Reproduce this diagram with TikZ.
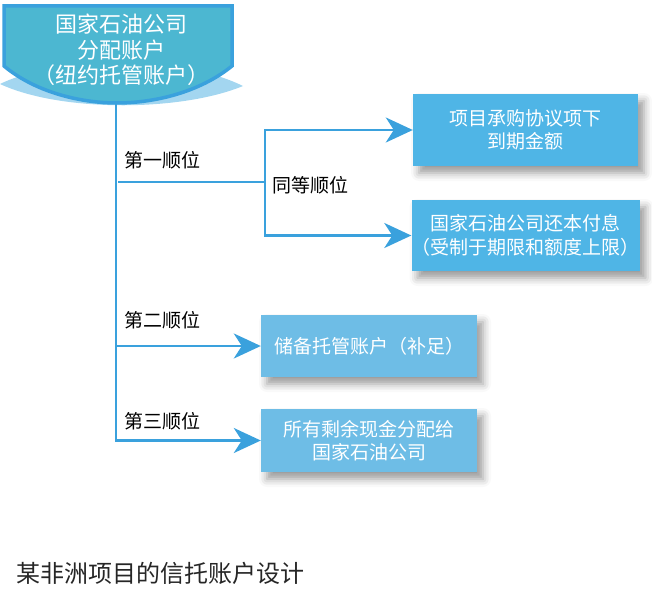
\documentclass[tikz,border=0pt]{standalone}
\usepackage{fontspec}
\newfontfamily\cjk{Noto Sans CJK SC}
\usetikzlibrary{arrows.meta,shadows.blur,calc}
\definecolor{linec}{HTML}{3AA1DD}
\definecolor{topfill}{HTML}{4CB7D1}
\definecolor{crescent}{HTML}{A3D6F0}
\definecolor{boxa}{HTML}{4FB5E6}
\definecolor{boxb}{HTML}{6EBDE6}
\tikzset{
  conn/.style={draw=linec,line width=2.6pt},
  arr/.style={conn,-{Stealth[length=27pt,width=25pt,inset=8pt]}},
  resbox/.style={fill=#1,minimum width=225pt,minimum height=72pt,inner sep=0pt,
    text=white,font=\cjk\fontsize{19}{23.5}\selectfont,align=center,
    blur shadow={shadow xshift=6pt,shadow yshift=-7pt,shadow blur radius=8pt,shadow opacity=40}},
  lab/.style={anchor=west,inner sep=0pt,font=\cjk\fontsize{19}{22}\selectfont,text=black},
}
\begin{document}
\begin{tikzpicture}[x=1pt,y=1pt]
\useasboundingbox (0,0) rectangle (652,-596);
% crescent behind the top shape
\fill[crescent] (0,-84) .. controls (60,-55) and (180,-55) .. (243,-86)
  .. controls (180,-112) and (60,-112) .. cycle;
% top shield shape
\draw[draw=linec,line width=3.5pt,fill=topfill]
  (4,-6) -- (232,-6) -- (232,-66)
  .. controls (200,-92) and (155,-103) .. (117,-103)
  .. controls (80,-103) and (35,-92) .. (4,-66) -- cycle;
\node[align=center,text=white,inner sep=0pt,font=\cjk\fontsize{22}{25.5}\selectfont] (top) at (121,-50)
  {国家石油公司\\分配账户\\（纽约托管账户）};
\coordinate (topbot) at (116,-102);
% boxes
\node[resbox=boxa,minimum width=225pt,minimum height=72pt] (b1) at (525.5,-130) {项目承购协议项下\\到期金额};
\node[resbox=boxa,minimum width=225pt,minimum height=71pt] (b2) at (525.5,-235.5) {国家石油公司还本付息\\（受制于期限和额度上限）};
\node[resbox=boxb,minimum width=216pt,minimum height=62pt] (b3) at (369,-346) {储备托管账户（补足）};
\node[resbox=boxb,minimum width=216pt,minimum height=63pt] (b4) at (369,-440.5) {所有剩余现金分配给\\国家石油公司};
% connectors
\coordinate (split) at (265,-182);
\draw[arr] (topbot) |- (b4.west);
\draw[arr] (b3.west -| topbot) -- (b3.west);
\draw[conn] ($(topbot |- split)+(2,0)$) -- (split);
\draw[arr] (split) |- (b1.west);
\draw[arr] (split) |- (b2.west);
% labels
\node[lab] (l1) at (124,-160) {第一顺位};
\node[lab] (l0) at (272,-185) {同等顺位};
\node[lab] (l2) at (124,-320) {第二顺位};
\node[lab] (l3) at (124,-421) {第三顺位};
\node[anchor=west,inner sep=0pt,font=\cjk\fontsize{24}{28}\selectfont,text=black!85] (cap) at (16,-573) {某非洲项目的信托账户设计};
\end{tikzpicture}
\end{document}
